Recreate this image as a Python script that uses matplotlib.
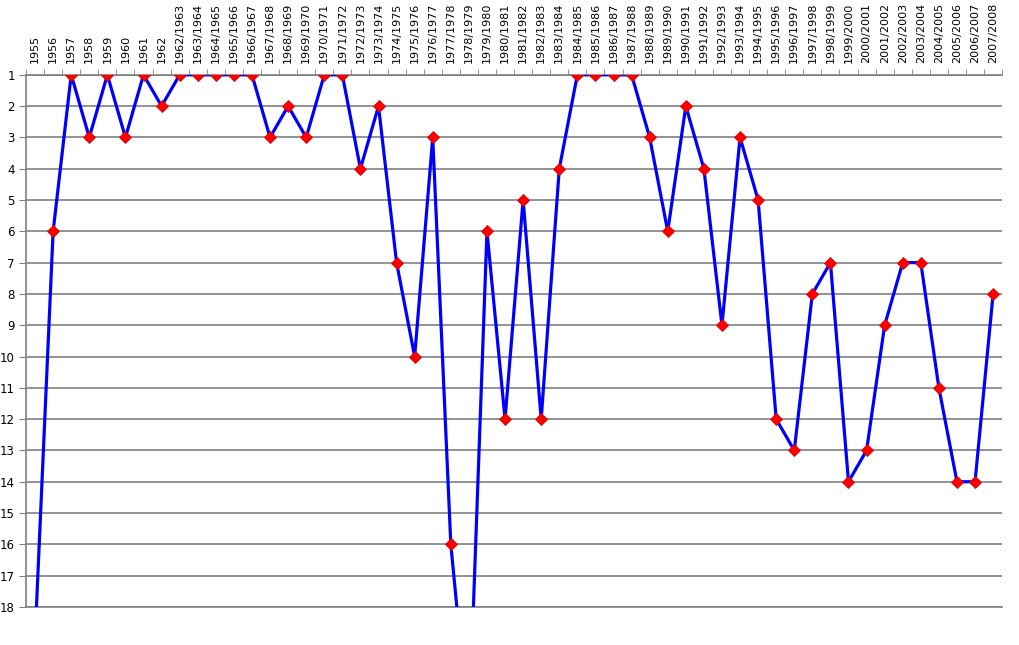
import matplotlib
matplotlib.use("Agg")
import matplotlib.pyplot as plt
import numpy as np

seasons = ["1955", "1956", "1957", "1958", "1959", "1960", "1961", "1962",
           "1962/1963", "1963/1964", "1964/1965", "1965/1966", "1966/1967",
           "1967/1968", "1968/1969", "1969/1970", "1970/1971", "1971/1972",
           "1972/1973", "1973/1974", "1974/1975", "1975/1976", "1976/1977",
           "1977/1978", "1978/1979", "1979/1980", "1980/1981", "1981/1982",
           "1982/1983", "1983/1984", "1984/1985", "1985/1986", "1986/1987",
           "1987/1988", "1988/1989", "1989/1990", "1990/1991", "1991/1992",
           "1992/1993", "1993/1994", "1994/1995", "1995/1996", "1996/1997",
           "1997/1998", "1998/1999", "1999/2000", "2000/2001", "2001/2002",
           "2002/2003", "2003/2004", "2004/2005", "2005/2006", "2006/2007",
           "2007/2008"]
# league position per season (1955 and 1978/1979 lie below the chart)
position = [19, 6, 1, 3, 1, 3, 1, 2,
            1, 1, 1, 1, 1,
            3, 2, 3, 1, 1,
            4, 2, 7, 10, 3,
            16, 22, 6, 12, 5,
            12, 4, 1, 1, 1,
            1, 3, 6, 2, 4,
            9, 3, 5, 12, 13,
            8, 7, 14, 13, 9,
            7, 7, 11, 14, 14,
            8]
y_ticks = list(range(1, 19))

fig = plt.figure(figsize=(10.2, 6.45), dpi=100)
ax = fig.add_axes([0.0255, 0.059, 0.957, 0.825])

x = np.arange(len(seasons))
ax.plot(x, position, color="#0000FF", linewidth=2.3, zorder=3,
        marker="D", markersize=6, markerfacecolor="#FF0000",
        markeredgecolor="#E00000", markeredgewidth=0.6)

ax.set_xlim(-0.5, len(seasons) - 0.5)
ax.set_ylim(18, 1)

ax.set_yticks(y_ticks)
ax.yaxis.grid(True, color="#808080", linewidth=1.2)
ax.set_axisbelow(True)
ax.tick_params(axis="y", length=5, color="#808080", labelsize=8.5, pad=3)

ax.xaxis.tick_top()
ax.set_xticks(x)
ax.set_xticklabels(seasons, rotation=90, fontsize=8)
ax.set_xticks(np.arange(-0.5, len(seasons), 1), minor=True)
ax.tick_params(axis="x", which="major", length=0, pad=8.5)
ax.tick_params(axis="x", which="minor", length=4, color="#808080", top=True, bottom=False)

ax.spines["right"].set_visible(False)
for side in ["left", "top", "bottom"]:
    ax.spines[side].set_color("#808080")
    ax.spines[side].set_linewidth(1.2)

fig.savefig("out.png", dpi=100)
